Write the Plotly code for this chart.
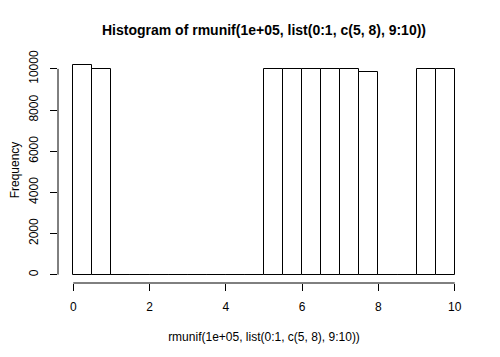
import plotly.graph_objects as go

bin_left = [0.0, 0.5, 1.0, 1.5, 2.0, 2.5, 3.0, 3.5, 4.0, 4.5,
            5.0, 5.5, 6.0, 6.5, 7.0, 7.5, 8.0, 8.5, 9.0, 9.5]
counts = [10170, 9970, 0, 0, 0, 0, 0, 0, 0, 0,
          9970, 10000, 10000, 10000, 10000, 9860, 0, 0, 9970, 10000]
bin_width = 0.5
x_ticks = [0, 2, 4, 6, 8, 10]
y_ticks = [0, 2000, 4000, 6000, 8000, 10000]
title = "Histogram of rmunif(1e+05, list(0:1, c(5, 8), 9:10))"
x_title = "rmunif(1e+05, list(0:1, c(5, 8), 9:10))"
y_title = "Frequency"

font = "Liberation Sans, Arial, sans-serif"

fig = go.Figure()
fig.add_trace(go.Bar(
    x=bin_left, y=counts, width=[bin_width] * len(bin_left), offset=0,
    marker=dict(color="white", line=dict(color="black", width=1)),
    hoverinfo="skip",
))

ymax = max(counts)
fig.update_layout(
    width=500, height=357,
    margin=dict(l=50, r=38, t=49, b=82),
    paper_bgcolor="white", plot_bgcolor="white",
    showlegend=False, bargap=0,
    font=dict(family=font, size=12, color="black"),
    title=dict(text="<b>" + title + "</b>", x=0.512, xanchor="center",
               y=1 - 22 / 357, yanchor="middle", automargin=False,
               font=dict(family=font, size=14, color="black")),
    xaxis=dict(range=[-0.4, 10.4], tickvals=x_ticks, ticktext=[str(v) for v in x_ticks],
               showgrid=False, zeroline=False, showline=False, automargin=False,
               ticks="outside", ticklen=7, tickwidth=1, tickcolor="black",
               ticklabelstandoff=6,
               title=dict(text=x_title, standoff=19, font=dict(size=12))),
    yaxis=dict(range=[-0.04 * ymax, 1.04 * ymax], tickvals=y_ticks, ticktext=[str(v) for v in y_ticks],
               showgrid=False, zeroline=False, showline=False, automargin=False,
               ticks="outside", ticklen=7, tickwidth=1, tickcolor="black",
               tickangle=-90, ticklabelstandoff=7,
               title=dict(text=y_title, standoff=17, font=dict(size=12))),
    shapes=[
        dict(type="line", xref="x", yref="paper", x0=x_ticks[0], x1=x_ticks[-1], y0=0, y1=0,
             line=dict(color="black", width=1)),
        dict(type="line", xref="paper", yref="y", x0=0, x1=0, y0=y_ticks[0], y1=y_ticks[-1],
             line=dict(color="black", width=1)),
    ],
)

fig.write_html("out.html")
